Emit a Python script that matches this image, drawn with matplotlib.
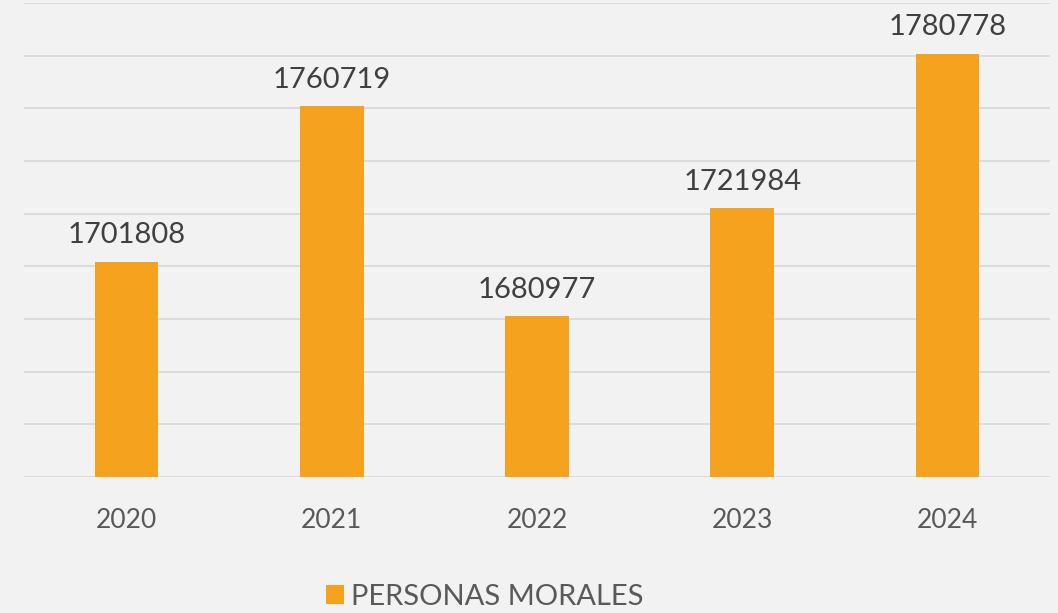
import matplotlib
matplotlib.use("Agg")
import matplotlib.pyplot as plt
from matplotlib.ticker import MultipleLocator

years = ["2020", "2021", "2022", "2023", "2024"]
personas_morales = [1701808, 1760719, 1680977, 1721984, 1780778]
series_name = "PERSONAS MORALES"

BG = "#f2f2f2"
BAR = "#f5a31e"

plt.rcParams["font.family"] = ["Lato", "DejaVu Sans"]

fig = plt.figure(figsize=(10.58, 6.13), dpi=100, facecolor=BG)
ax = fig.add_axes([24 / 1058, 136 / 613, 1026 / 1058, 474 / 613])
ax.set_facecolor(BG)

x = list(range(len(years)))
bars = ax.bar(x, personas_morales, width=0.31, color=BAR, label=series_name, zorder=3)

ax.set_xlim(-0.5, len(years) - 0.5)
ax.set_ylim(1620000, 1800000)
ax.yaxis.set_major_locator(MultipleLocator(20000))
ax.grid(axis="y", color="#d9d9d9", linewidth=1.3, zorder=0)
ax.set_yticklabels([])
ax.tick_params(axis="y", length=0)
ax.tick_params(axis="x", length=0, pad=22, labelsize=19, labelcolor="#595959")
ax.set_xticks(x)
ax.set_xticklabels(years)
for s in ax.spines.values():
    s.set_visible(False)

for xi, v in zip(x, personas_morales):
    ax.annotate(str(v), (xi, v), xytext=(0, 10), textcoords="offset points",
                ha="center", va="bottom", fontsize=21, color="#404040")

fig.legend(handles=[bars], labels=[series_name], loc="center",
           bbox_to_anchor=(485 / 1058, 16 / 613), frameon=False,
           fontsize=21, labelcolor="#595959", handlelength=0.6, handleheight=0.6,
           handletextpad=0.25)

fig.savefig("out.png", dpi=100, facecolor=BG)
